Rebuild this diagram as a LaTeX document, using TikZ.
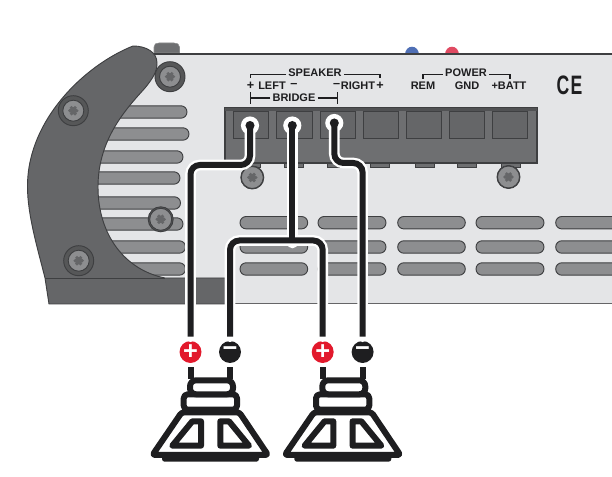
\documentclass[tikz,border=0pt]{standalone}
\usepackage{fontspec}
\setmainfont{Liberation Sans}
\definecolor{panel}{HTML}{E4E5E7}
\definecolor{slotgrey}{HTML}{8D8E90}
\definecolor{edgegrey}{HTML}{3E3F41}
\definecolor{bracketgrey}{HTML}{656668}
\definecolor{blockgrey}{HTML}{6E6F71}
\definecolor{wireblack}{HTML}{1E1E20}
\definecolor{plusred}{HTML}{E2192C}
\tikzset{
	slot/.style={draw=edgegrey,fill=slotgrey,line width=0.7pt,rounded corners=4.6pt},
	lbl/.style={inner sep=1.5pt,text=wireblack,font=\fontsize{8.25}{9}\selectfont\bfseries},
	lblsign/.style={lbl,font=\fontsize{9.5}{10}\selectfont\bfseries},
	brace/.style={draw=wireblack,line width=0.8pt},
	halo/.style={draw=white,line width=8pt,line cap=round,rounded corners=7pt},
	wire/.style={draw=wireblack,line width=4.5pt,rounded corners=7pt},
	poledot/.style={circle,minimum size=16.5pt,inner sep=0pt,text=white,font=\fontsize{19}{19}\selectfont\bfseries},
	spkline/.style={draw=wireblack,line width=4.5pt,line join=round,fill=white}
}
\newcommand{\screw}[4]{%
	\draw [edgegrey,fill=bracketgrey!85!black,line width=0.7pt] (#1,#2) circle (#3*0.75pt);
	\draw [edgegrey,fill=slotgrey,line width=0.7pt] (#1,#2) circle (#4*0.75pt);
	\foreach \lobe in {0,60,...,300} {\fill [bracketgrey] (#1,#2) ++(\lobe:3.4) circle (1.9*0.75pt);}
	\fill [bracketgrey] (#1,#2) circle (3.6*0.75pt);
}
\begin{document}
\begin{tikzpicture}[x=0.75pt,y=0.75pt,yscale=-1,xscale=1]
	\useasboundingbox (0,0) rectangle (612,477);
	\clip (0,0) rectangle (612,477);

	%Shape: Knobs
	\draw [edgegrey!60,fill=blockgrey] (154,53) -- (154,47) .. controls (154,44) and (156,43) .. (159,43) -- (174,43) .. controls (177,43) and (179.5,44) .. (179.5,47) -- (179.5,53) -- cycle ;
	\fill [fill={rgb, 255:red, 79; green, 111; blue, 181}] (405,55) .. controls (405,44) and (419,44) .. (419,55) -- cycle ;
	\fill [fill={rgb, 255:red, 224; green, 74; blue, 98}] (445,55) .. controls (445,44) and (459,44) .. (459,55) -- cycle ;

	%Shape: Panel
	\fill [panel] (140,54) -- (612,54) -- (612,303.5) -- (60,303.5) -- (60,187) -- (100,80) -- cycle ;
	\draw [edgegrey,line width=0.8pt] (140,54) -- (612,54) ;
	\draw [edgegrey!80,line width=1pt] (60,303.5) -- (612,303.5) ;

	%Shape: Vent slots, left column
	\foreach \sy/\sx in {112/187,134/189,157/183,178/180,203/180.5,224/183,247/185.5,269/185.5} {
		\draw [slot] (80,\sy-6.2) rectangle (\sx,\sy+6.2);
	}
	%Shape: Vent slots, main rows
	\foreach \sy in {222.7,247,269} {
		\foreach \sa/\sb in {240/307.7,318/386,397.7/465.3,476/544,555.7/640} {
			\draw [slot] (\sa,\sy-6.2) rectangle (\sb,\sy+6.2);
		}
	}

	%Shape: Side bracket
	\draw [edgegrey,fill=bracketgrey,line width=0.7pt] (133,46) .. controls (85,65) and (27,120) .. (27.5,187) .. controls (27.5,215) and (38,250) .. (45,278) -- (49,304) -- (225,304) -- (225,278) -- (165,278) .. controls (125,270) and (98,235) .. (98,187) .. controls (98,140) and (125,110) .. (145,88) .. controls (153,78) and (157,72) .. (157,63) .. controls (157,52) and (146,46) .. (133,46) -- cycle ;
	%Straight Lines
	\draw [edgegrey,line width=0.6pt] (45,278) -- (165,278) ;

	%Shape: Terminal tabs
	\foreach \tx in {241.5,284,327,370,415,457.5,501} {
		\draw [edgegrey,fill=blockgrey,line width=0.6pt] (\tx,160) rectangle (\tx+19,167);
	}
	%Shape: Terminal block
	\draw [edgegrey,fill=blockgrey,line width=0.8pt] (225,108) rectangle (537,163);
	\fill [edgegrey!90] (225,108) rectangle (537,111);
	\foreach \qx in {233.3,276.7,320,363,406.3,449,492} {
		\draw [edgegrey,fill=bracketgrey,line width=0.7pt] (\qx,111) rectangle (\qx+35.3,138);
	}

	%Shape: Screws
	\screw{170}{76.7}{15}{10.5}
	\screw{73.3}{110.7}{15}{10.5}
	\screw{78.7}{260.7}{15}{10.5}
	\screw{160.7}{219.3}{12.5}{11}
	\screw{252.3}{177.5}{11.5}{11}
	\screw{508.5}{177}{11.5}{11}

	% Text Node
	\draw (315,73) node [lbl] (speaker) {SPEAKER};
	\draw (250.5,85.5) node [lblsign] (leftplus) {+};
	\draw (272,85.5) node [lbl] (leftname) {LEFT};
	\draw (294,85.5) node [lblsign] (leftminus) {--};
	\draw (336.7,85.5) node [lblsign] (rightminus) {--};
	\draw (358,85.5) node [lbl] (rightname) {RIGHT};
	\draw (380,85.5) node [lblsign] (rightplus) {+};
	\draw (294,98) node [lbl] (bridge) {BRIDGE};
	\draw (466,73) node [lbl] (power) {POWER};
	\draw (423,85.5) node [lbl] (rem) {REM};
	\draw (467,85.5) node [lbl] (gnd) {GND};
	\draw (509,85.5) node [lbl] (batt) {+BATT};
	\draw (569.5,85) node [inner sep=0pt,text=wireblack,font=\fontsize{20}{20}\selectfont\bfseries] (ce) {\scalebox{0.66}[1]{C\kern1.5pt E}};

	%Straight Lines
	\draw [brace] ([yshift=1pt]speaker.west) -| (250.5,78.5) ;
	\draw [brace] ([yshift=1pt]speaker.east) -| (380,78.5) ;
	\draw [brace] ([yshift=1pt]power.west) -| (423,79) ;
	\draw [brace] ([yshift=1pt]power.east) -| (510,79) ;
	\draw [brace] (bridge.west) -- (250.5,98) (250.5,92.5) -- (250.5,104) ;
	\draw [brace] (bridge.east) -- (337.5,98) (337.5,92.5) -- (337.5,104) ;

	%Shape: Pole markers
	\draw (190.5,352) node [poledot,fill=plusred] (plusa) {+};
	\draw (230,352) node [poledot,fill=wireblack] (minusa) {\raisebox{-1.2pt}{−}};
	\draw (322.7,352) node [poledot,fill=plusred] (plusb) {+};
	\draw (362.6,352) node [poledot,fill=wireblack] (minusb) {\raisebox{-1.2pt}{−}};

	\coordinate (holea) at (250,125.5);
	\coordinate (holeb) at (292.3,125.5);
	\coordinate (holec) at (334.3,123);
	\coordinate (junction) at (292.3,243);

	%Curve Lines
	\fill [white] (holea) circle (6.8pt) (holeb) circle (6.8pt) (holec) circle (6.8pt);
	\draw [halo] (holea) -- (250,165) -- (190.5,165) -- ([yshift=-3pt]plusa.north) ;
	\draw [halo] (holeb) -- (junction) ;
	\draw [halo] ([yshift=-3pt]minusa.north) -- (230,240.5) -- (322.7,240.5) -- ([yshift=-3pt]plusb.north) ;
	\draw [halo] (holec) -- (334.3,163) -- (362.6,163) -- ([yshift=-3pt]minusb.north) ;
	\draw [wire] (holea) -- (250,165) -- (190.5,165) -- ([yshift=-3pt]plusa.north) ;
	\draw [wire] (holeb) -- (292.3,240.5) ;
	\draw [wire] ([yshift=-3pt]minusa.north) -- (230,240.5) -- (322.7,240.5) -- ([yshift=-3pt]plusb.north) ;
	\draw [wire] (holec) -- (334.3,163) -- (362.6,163) -- ([yshift=-3pt]minusb.north) ;
	\fill [wireblack] (holea) circle (3.4pt) (holeb) circle (3.4pt) (holec) circle (3.4pt);

	%Shape: Speakers
	\foreach \spk in {0,132.3} {
		\begin{scope}[xshift=\spk*0.75pt]
			\draw [spkline,rounded corners=2pt] (181.7,412.3) -- (152.5,455) -- (268,455) -- (239.3,412.3) -- cycle ;
			\draw [spkline,rounded corners=3pt] (183.7,394.3) rectangle (237,409.7) ;
			\draw [spkline,rounded corners=4.5pt] (190,380.3) rectangle (233,394.3) ;
			\draw [spkline] (192.3,421.3) -- (201,421.3) -- (201,445.7) -- (172.3,445.7) -- cycle ;
			\draw [spkline] (229,421.3) -- (220.3,421.3) -- (220.3,445.7) -- (249,445.7) -- cycle ;
			\fill [wireblack,rounded corners=2pt] (162,455) rectangle (259,461.7) ;
		\end{scope}
	}

	%Straight Lines
	\draw [draw=wireblack,line width=4.5pt] ([yshift=3pt]plusa.south) -- (190.5,379) ;
	\draw [draw=wireblack,line width=4.5pt] ([yshift=3pt]minusa.south) -- (230,379) ;
	\draw [draw=wireblack,line width=4.5pt] ([yshift=3pt]plusb.south) -- (322.7,379) ;
	\draw [draw=wireblack,line width=4.5pt] ([yshift=3pt]minusb.south) -- (362.6,379) ;
\end{tikzpicture}
\end{document}
